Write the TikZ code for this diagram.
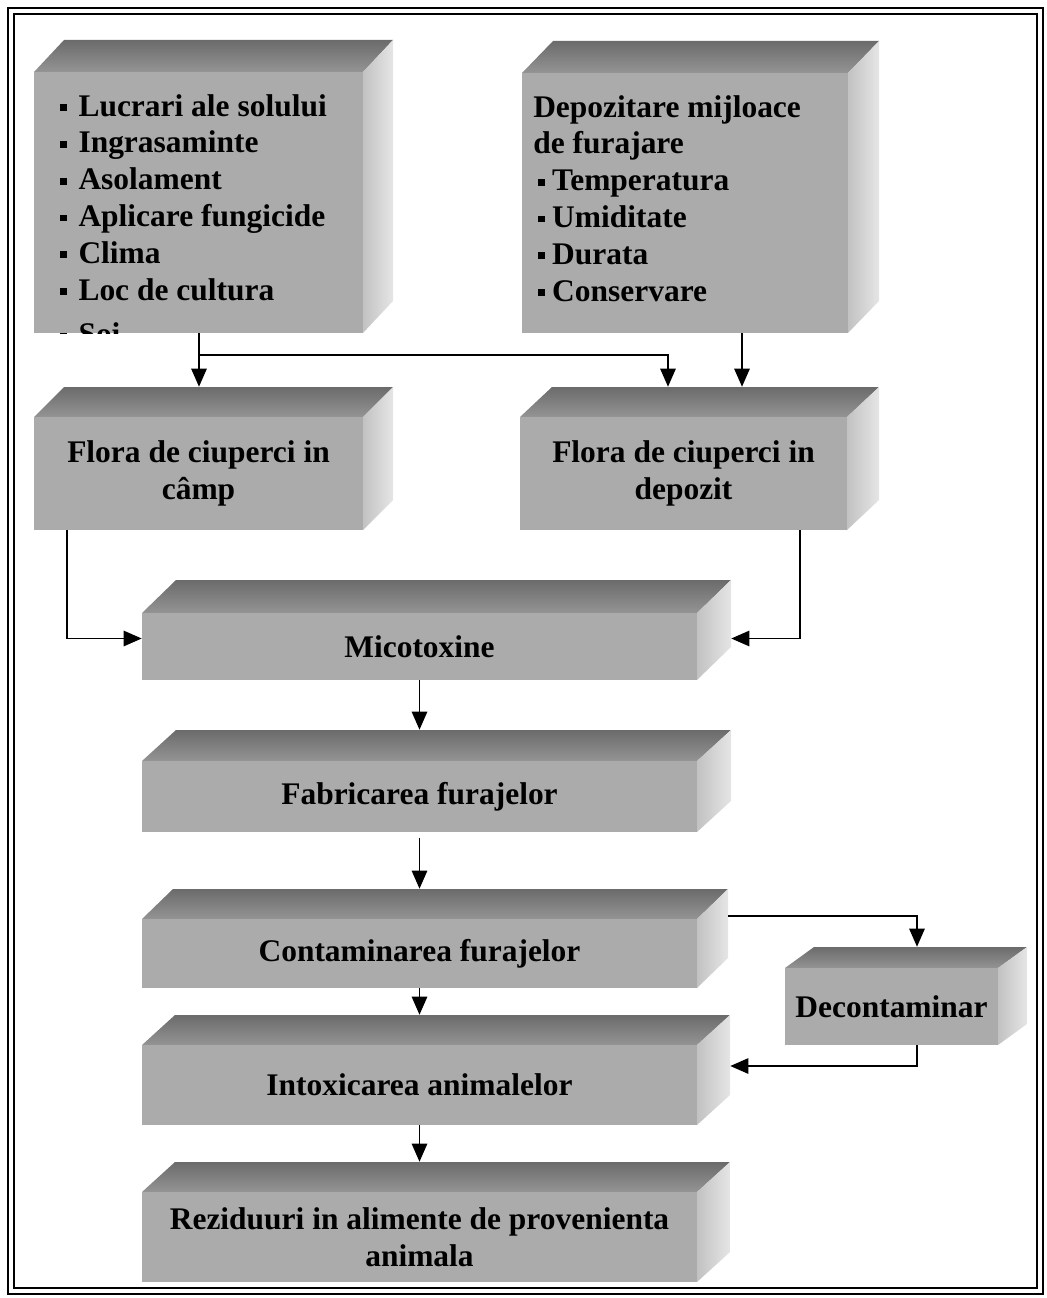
\documentclass[tikz,border=0pt]{standalone}
\usepackage{fontspec}
\setmainfont{Liberation Serif}
\usetikzlibrary{arrows.meta,calc,fit}
\newcommand\boxfont{\fontsize{23.6}{27.6}\selectfont\bfseries}
\newcommand\bul{\rule[0.16em]{0.22em}{0.22em}\hspace{0.36em}}
\newcommand\bulb{\hspace{0.16em}\rule[0.16em]{0.22em}{0.22em}\hspace{0.22em}}
\tikzset{
  frontface/.style={fill=black!33, inner sep=0pt},
  lbl/.style={inner sep=0pt, font=\boxfont, align=center, text=black},
  textblk/.style={inner sep=0pt, font=\boxfont, align=left, text=black},
  arr/.style={line width=1.2pt, -{Triangle[width=11.5pt,length=13.5pt]}},
}
% #1 name, #2 x1, #3 y1 (front top), #4 x2, #5 y2 (bottom), #6 dx, #7 dy
\newcommand\cubeshape[7]{%
  \shade[top color=black!58, bottom color=black!42]
    (#2,#3) -- (#2+#6,#3-#7) -- (#4+#6,#3-#7) -- (#4,#3) -- cycle;
  \shade[left color=black!24, right color=black!10]
    (#4,#3) -- (#4+#6,#3-#7) -- (#4+#6,#5-#7) -- (#4,#5) -- cycle;
  \node[frontface, inner sep=0pt, fit={(#2,#3)(#4,#5)}] (#1) {};
}
% same, with a centred label #8
\newcommand\cube[8]{%
  \cubeshape{#1}{#2}{#3}{#4}{#5}{#6}{#7}
  \node[lbl] (#1t) at (#1.center) {#8};
}
\begin{document}
\begin{tikzpicture}[x=0.75pt,y=-0.75pt]
\useasboundingbox (0,0) rectangle (1046,1298);
% frame
\draw[line width=2.2pt] (8,8) rectangle (1043,1294);
\draw[line width=0.9pt] (14,14) rectangle (1037,1288);

% boxes
\cubeshape{b1}{34}{72}{363}{333}{30}{32}
\cubeshape{b2}{522}{73}{848}{333}{31}{32}
\cube{f1}{34}{417}{363}{530}{30}{30}{Flora de ciuperci in\\câmp}
\cube{f2}{520}{417}{847}{530}{32}{30}{Flora de ciuperci in\\depozit}
\cube{mic}{142}{613}{697}{680}{34}{33}{Micotoxine}
\cube{fab}{142}{761}{697}{832}{34}{31}{Fabricarea furajelor}
\cube{con}{142}{919}{697}{988}{31}{30}{Contaminarea furajelor}
\cube{dec}{785}{968}{998}{1045}{29}{21}{Decontaminar}
\cube{int}{142}{1045}{697}{1125}{33}{30}{Intoxicarea animalelor}
\cube{rez}{142}{1192}{697}{1282}{33}{30}{Reziduuri in alimente de provenienta\\animala}

% texts of the top boxes
\begin{scope}
\clip (34,40) rectangle (393,333);
\node[textblk, anchor=north west] (b1list) at (60,94)
  {\bul Lucrari ale solului\\ \bul Ingrasaminte\\ \bul Asolament\\ \bul Aplicare fungicide\\ \bul Clima\\ \bul Loc de cultura\\[6pt] \bul Soi};
\end{scope}
\node[textblk, anchor=north west] (b2list) at (533,95)
  {Depozitare mijloace\\ de furajare\\ \bulb Temperatura\\ \bulb Umiditate\\ \bulb Durata\\ \bulb Conservare};

% columns for connectors
\coordinate (cA) at (199,0);
\coordinate (cB) at (668,0);
\coordinate (cC) at (742,0);
\coordinate (cL) at (67,0);
\coordinate (cR) at (800,0);
\coordinate (cD) at (917,0);
\coordinate (j1) at ($(b1.south -| cA)+(0,22)$);

% connectors
\draw[arr] (b1.south -| cA) -- ($(f1.north -| cA)+(0,-30)$);
\draw[arr] (j1) -| ($(f2.north -| cB)+(0,-30)$);
\draw[arr] (b2.south -| cC) -- ($(f2.north -| cC)+(0,-30)$);
\draw[arr] (f1.south -| cL) |- ($(mic.west)+(0,-8)$);
\draw[arr] (f2.south -| cR) |- ($(mic.east)+(34,-8)$);
\draw[arr] (mic.south) -- ($(fab.north)+(0,-31)$);
\draw[arr] ([yshift=-4pt]fab.south) -- ($(con.north)+(0,-30)$);
\draw[arr] ($(con.north east)+(31,-3)$) -| ($(dec.north -| cD)+(0,-21)$);
\draw[arr] (con.south) -- ($(int.north)+(0,-30)$);
\draw[arr] (dec.south -| cD) |- ($(int.east)+(33,-19)$);
\draw[arr] (int.south) -- ($(rez.north)+(0,-30)$);
\end{tikzpicture}
\end{document}
